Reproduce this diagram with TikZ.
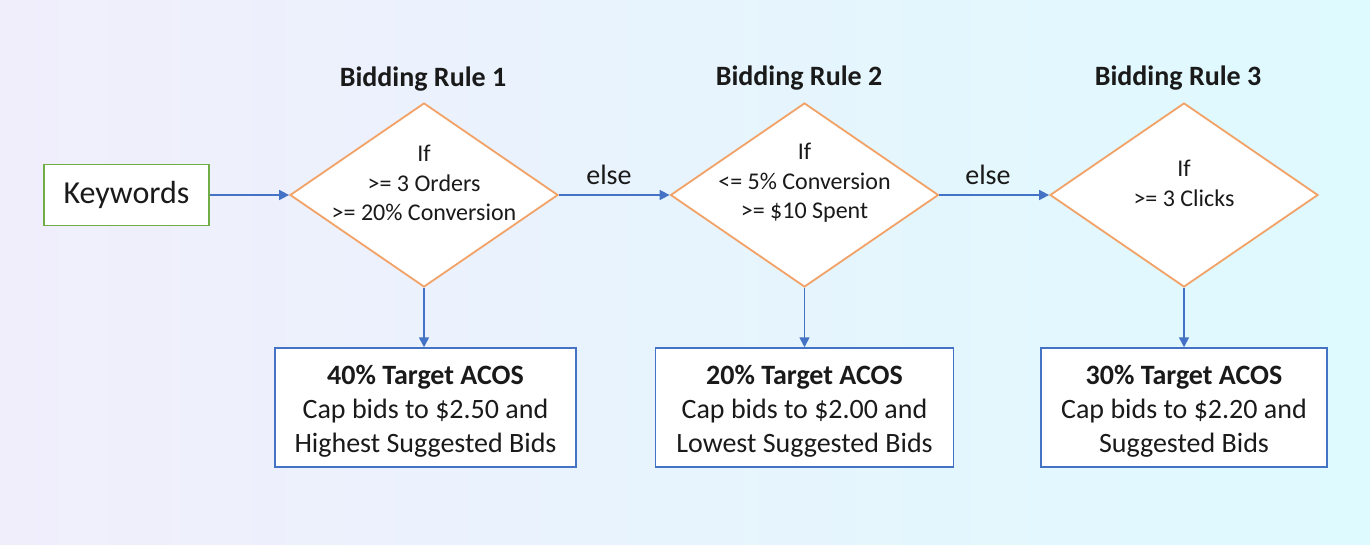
\documentclass[tikz,border=0pt]{standalone}
\usepackage{fontspec}
\setmainfont{Carlito}
\usetikzlibrary{shapes.geometric,arrows.meta}
\definecolor{bgleft}{HTML}{F1EEFC}
\definecolor{bgright}{HTML}{DEFAFE}
\definecolor{dorange}{HTML}{F2A266}
\definecolor{lblue}{HTML}{4472C4}
\definecolor{kgreen}{HTML}{70AD47}
\definecolor{txt}{HTML}{1A1A1A}
\begin{document}
\begin{tikzpicture}[x=1pt,y=-1pt,
  cond/.style={draw=dorange, line width=1.8pt, fill=white, shape=diamond,
    aspect=1.4565, minimum width=268pt, minimum height=184pt, inner sep=0pt},
  condtext/.style={align=center, text=txt, font=\fontsize{24}{29.5}\selectfont, inner sep=0pt},
  result/.style={draw=lblue, line width=1.5pt, fill=white, minimum height=119pt,
    align=center, text=txt, font=\fontsize{28}{34}\selectfont, inner sep=0pt},
  header/.style={text=txt, font=\fontsize{28}{34}\selectfont\bfseries, inner sep=0pt},
  elselbl/.style={text=txt, font=\fontsize{28}{34}\selectfont, inner sep=0pt},
  flow/.style={draw=lblue, line width=1.6pt, -{Triangle[length=10pt,width=10pt]}},
]
\useasboundingbox (0,0) rectangle (1370,545);
\shade[left color=bgleft, right color=bgright] (0,0) rectangle (1370,545);

% input
\node[draw=kgreen, line width=1.5pt, fill=white, minimum width=165pt, minimum height=61pt,
  inner sep=0pt, text=txt, font=\fontsize{32}{38}\selectfont] (kw) at (126.5,195) {Keywords};

% decisions
\node[cond] (d1) at (424,195) {};
\node[cond] (d2) at (804.5,195) {};
\node[cond] (d3) at (1184,195) {};

\node[condtext] (t1) at (424,183) {If\\>= 3 Orders\\>= 20\% Conversion};
\node[condtext] (t2) at (804.5,183) {If\\<= 5\% Conversion\\>= \$10 Spent};
\node[condtext] (t3) at (1184,183.5) {If\\>= 3 Clicks};

\node[header] (h1) at (423,79) {Bidding Rule 1};
\node[header] (h2) at (799,78) {Bidding Rule 2};
\node[header] (h3) at (1178,78) {Bidding Rule 3};

% results
\node[result, minimum width=301pt] (r1) at (425.5,407.5)
  {\rule{0pt}{27pt}\textbf{40\% Target ACOS}\\Cap bids to \$2.50 and\\Highest Suggested Bids};
\node[result, minimum width=298pt] (r2) at (804.5,407.5)
  {\rule{0pt}{27pt}\textbf{20\% Target ACOS}\\Cap bids to \$2.00 and\\Lowest Suggested Bids};
\node[result, minimum width=286pt] (r3) at (1184,407.5)
  {\rule{0pt}{27pt}\textbf{30\% Target ACOS}\\Cap bids to \$2.20 and\\Suggested Bids};

% connectors
\draw[flow] (kw.east) -- (d1.west);
\draw[flow] (d1.east) -- (d2.west);
\draw[flow] (d2.east) -- (d3.west);
\draw[flow] (d1.south) -- (d1.south |- r1.north);
\draw[flow] (d2.south) -- (d2.south |- r2.north);
\draw[flow] (d3.south) -- (d3.south |- r3.north);

\node[elselbl] (e1) at (609,175) {else};
\node[elselbl] (e2) at (988,175) {else};
\end{tikzpicture}
\end{document}
